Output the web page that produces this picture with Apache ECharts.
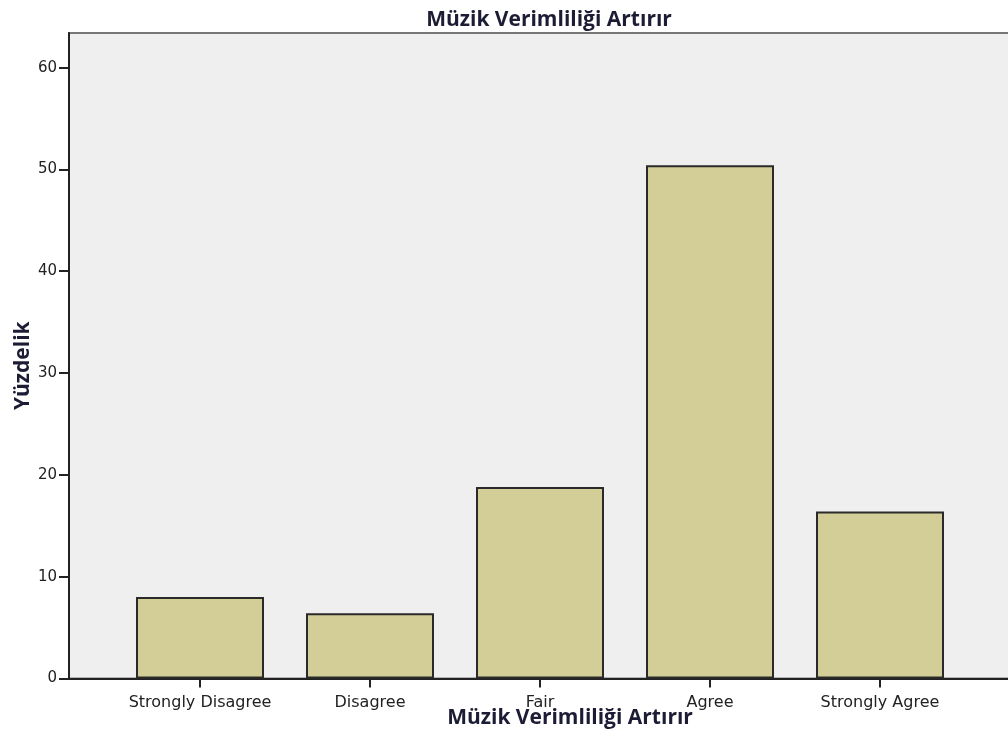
<!DOCTYPE html>
<html>
<head>
<meta charset="utf-8">
<script src="https://cdn.jsdelivr.net/npm/echarts@6/dist/echarts.min.js"></script>
<style>
html, body { margin: 0; padding: 0; background: #fff; }
#chart { width: 1008px; height: 729px; }
</style>
</head>
<body>
<div id="chart"></div>
<script>
// data (percent)
var categories = ['Strongly Disagree', 'Disagree', 'Fair', 'Agree', 'Strongly Agree'];
var percents = [8.0, 6.4, 18.8, 50.4, 16.4];
var yTicks = [0, 10, 20, 30, 40, 50, 60];

var titleText = 'Müzik Verimliliği Artırır';
var yName = 'Yüzdelik';

var yMax = 63.4;
var nameFont = { fontFamily: 'Open Sans', fontWeight: 'bold', fontSize: 21, color: '#1c1c34' };

var chart = echarts.init(document.getElementById('chart'));
chart.setOption({
  backgroundColor: '#fff',
  animation: false,
  title: {
    text: titleText,
    left: 544, top: 5, textAlign: 'center',
    textStyle: nameFont
  },
  grid: [
    // frame, grey backdrop and the y axis
    { left: 69, top: 33, bottom: 50.5, right: -10, outerBoundsMode: 'none',
      show: true, backgroundColor: '#efefef', borderColor: '#777', borderWidth: 2 },
    // the bars, band of 170px per category
    { left: 115, top: 33, bottom: 50.5, width: 850, outerBoundsMode: 'none' }
  ],
  xAxis: [
    { gridIndex: 0, type: 'value', min: 0, max: 1,
      axisLine: { show: true, onZero: false, lineStyle: { color: '#222', width: 2 } },
      axisTick: { show: false }, axisLabel: { show: false }, splitLine: { show: false } },
    { gridIndex: 1, type: 'category', data: categories,
      axisLine: { show: false },
      axisTick: { show: true, alignWithLabel: true, length: 9, lineStyle: { color: '#222', width: 2 } },
      axisLabel: { color: '#222', fontFamily: 'DejaVu Sans', fontSize: 16, margin: 16, interval: 0 },
      name: titleText, nameLocation: 'middle', nameGap: 29, nameMoveOverlap: false,
      nameTextStyle: Object.assign({ padding: [0, 0, 0, 60] }, nameFont) }
  ],
  yAxis: [
    { gridIndex: 0, type: 'value', min: 0, max: yMax, interval: 10,
      axisLine: { show: true, lineStyle: { color: '#222', width: 2 } },
      axisTick: { show: true, length: 10, lineStyle: { color: '#222', width: 2 },
        customValues: yTicks },
      axisLabel: { color: '#222', fontFamily: 'DejaVu Sans', fontSize: 15, margin: 12,
        customValues: yTicks },
      splitLine: { show: false },
      name: yName, nameLocation: 'middle', nameGap: 35, nameRotate: 90, nameMoveOverlap: false,
      nameTextStyle: Object.assign({ padding: [0, 20, 0, 0] }, nameFont) },
    { gridIndex: 1, type: 'value', min: 0, max: yMax, show: false }
  ],
  series: [{
    type: 'bar',
    xAxisIndex: 1, yAxisIndex: 1,
    data: percents,
    barWidth: 128,
    itemStyle: { color: '#d3ce97', borderColor: '#2a2a2a', borderWidth: 2 }
  }]
});
</script>
</body>
</html>
